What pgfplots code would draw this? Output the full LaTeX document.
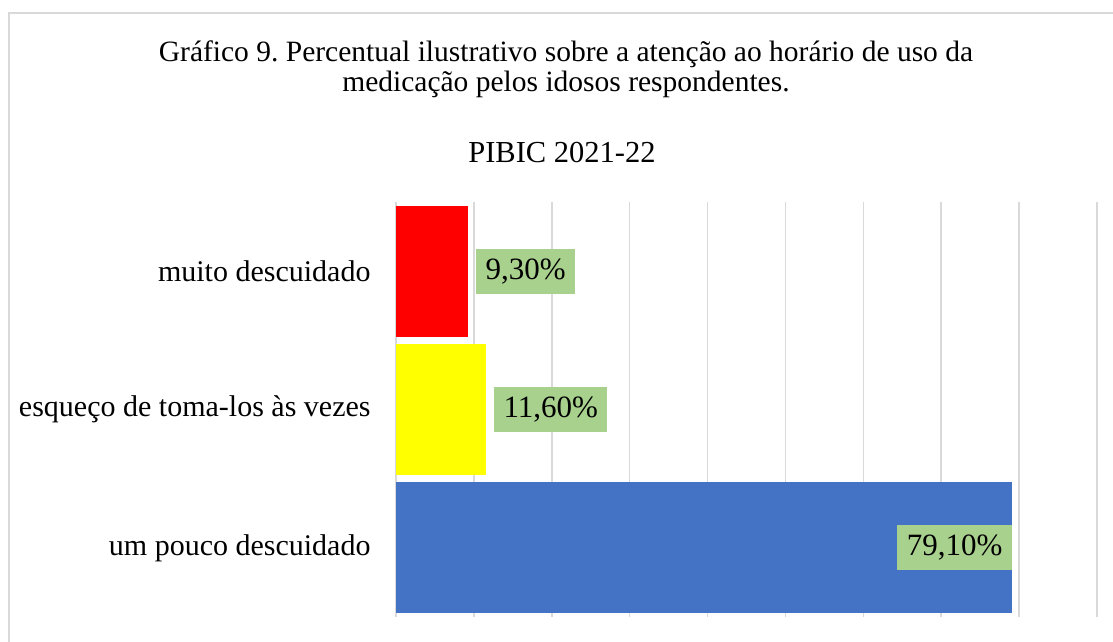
\documentclass[border=0pt]{standalone}
\usepackage{fontspec}
\setmainfont{Liberation Serif}
\usepackage{pgfplots}
\pgfplotsset{compat=1.18}
\definecolor{barred}{HTML}{FF0000}
\definecolor{baryellow}{HTML}{FFFF00}
\definecolor{barblue}{HTML}{4472C4}
\definecolor{labgreen}{HTML}{A9D18E}
\definecolor{gridgray}{HTML}{D9D9D9}
\frenchspacing
\begin{document}
\begin{tikzpicture}[x=1pt,y=1pt]
\useasboundingbox (0,0) rectangle (1113,-642);
% chart frame (cut off at right and bottom)
\draw[gridgray, line width=1.5pt] (9,-642) -- (9,-13) -- (1113,-13);
% titles
\fontsize{29.5}{35}\selectfont
\node[anchor=base, inner sep=0pt] at (566,-62) {Gráfico 9. Percentual ilustrativo sobre a atenção ao horário de uso da};
\node[anchor=base, inner sep=0pt] at (566,-92) {medicação pelos idosos respondentes.};
\node[anchor=base, inner sep=0pt, font=\fontsize{30.5}{35}\selectfont] at (562,-162) {PIBIC 2021-22};
\begin{axis}[
    at={(396pt,-617pt)}, anchor=south west,
    scale only axis,
    width=701pt, height=415pt,
    xbar, bar width=131pt, bar shift=0pt,
    xmin=0, xmax=90, ymin=-0.5, ymax=2.5,
    xtick={0,10,...,90}, xticklabels={},
    ytick={0,1,2},
    yticklabels={um pouco descuidado, esqueço de toma-los às vezes, muito descuidado},
    yticklabel style={anchor=east, inner sep=0pt, xshift=-21pt, font=\fontsize{30}{35}\selectfont},
    xmajorgrids, grid style={gridgray, line width=1.5pt},
    axis line style={draw=none}, tick style={draw=none},
    point meta=explicit symbolic,
    nodes near coords,
    every node near coord/.append style={font=\fontsize{31}{36}\selectfont, fill=labgreen,
        text=black, inner xsep=9.5pt, inner ysep=0pt, minimum height=45pt},
]
\addplot[fill=barred, draw=none, every node near coord/.append style={anchor=west, xshift=7.5pt}]
    coordinates {(9.3,2) [9,30\%]};
\addplot[fill=baryellow, draw=none, every node near coord/.append style={anchor=west, xshift=7.5pt}]
    coordinates {(11.6,1) [11,60\%]};
\addplot[fill=barblue, draw=none, every node near coord/.append style={anchor=east, xshift=0pt}]
    coordinates {(79.1,0) [79,10\%]};
\end{axis}
\end{tikzpicture}
\end{document}
